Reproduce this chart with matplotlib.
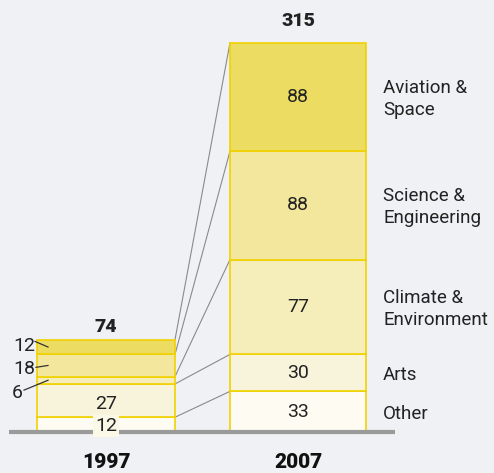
import numpy as np
import matplotlib.pyplot as plt

# Values (from the picture), bottom to top
categories = ['Other', 'Arts', 'Climate &\nEnvironment', 'Science &\nEngineering', 'Aviation &\nSpace']
years = ['1997', '2007']
values_1997 = [12, 27, 6, 18, 12]
values_2007 = [33, 30, 77, 88, 88]
totals = [74, 315]

colors = ['#fdfbf2', '#f8f4dc', '#f5eebb', '#f3e79d', '#ecdc62']
edge = '#f0d200'
bg = '#f0f1f4'

plt.rcParams['font.family'] = ['Roboto', 'DejaVu Sans']

fig = plt.figure(figsize=(4.94, 4.73), dpi=100, facecolor=bg)
ax = fig.add_axes([0, 0, 1, 1])
ax.set_facecolor(bg)
px = 1.232  # pixels per unit
ax.set_xlim(0, 494)
ax.set_ylim(-41 / px, (473 - 41) / px)
ax.axis('off')

x_pos = [106, 298]
widths = [138, 136]

# stacked bars
for xi, w, vals in zip(x_pos, widths, [values_1997, values_2007]):
    bottoms = np.concatenate([[0], np.cumsum(vals)[:-1]])
    ax.bar(xi, vals, width=w, bottom=bottoms, color=colors,
           edgecolor=edge, linewidth=1.2, zorder=2)

# connector lines between segment tops
tops_97 = np.cumsum(values_1997)
tops_07 = np.cumsum(values_2007)
x_r = x_pos[0] + widths[0] / 2
x_l = x_pos[1] - widths[1] / 2
for t1, t2 in zip(tops_97, tops_07):
    ax.plot([x_r, x_l], [t1, t2], color='#8a8a8a', lw=0.8, zorder=1)

# baseline
ax.plot([9, 395], [0, 0], color='#9a9a9a', lw=3, solid_capstyle='butt', zorder=3)

# labels inside 2007 bar
mids_07 = tops_07 - np.array(values_2007) / 2
for m, v in zip(mids_07, values_2007):
    ax.text(x_pos[1], m, str(v), ha='center', va='center', fontsize=14, color='#222222', zorder=4)

# category labels
for m, c in zip(mids_07, categories):
    ax.text(383, m - 1.5, c, ha='left', va='center', fontsize=13.5,
            color='#222222', linespacing=1.3)

# 1997 labels
mids_97 = tops_97 - np.array(values_1997) / 2
ax.text(x_pos[0], mids_97[1] - 2.5, str(values_1997[1]), ha='center', va='center',
        fontsize=14, color='#222222', zorder=4)
ax.text(x_pos[0], mids_97[0] - 1, str(values_1997[0]), ha='center', va='center',
        fontsize=14, color='#222222', zorder=4,
        bbox=dict(boxstyle='square,pad=0.1', facecolor='#fbf8e8', edgecolor='none'))

side = [(4, 35, 69.8, (35, 73.5)), (3, 35, 51.0, (36, 52.5)), (2, 23, 31.7, (24, 34))]
for idx, xt, yt, start in side:
    ax.text(xt, yt, str(values_1997[idx]), ha='right', va='center', fontsize=14, color='#222222')
    ax.plot([start[0], 48], [start[1], mids_97[idx]], color='#333333', lw=0.9, zorder=4)

# totals
ax.text(x_pos[0], 85, str(totals[0]), ha='center', va='center', fontsize=14,
        fontweight='black', color='#222222')
ax.text(x_pos[1], 334, str(totals[1]), ha='center', va='center', fontsize=14,
        fontweight='black', color='#222222')

# years
for xi, yr in zip(x_pos, years):
    ax.text(xi, -25, yr, ha='center', va='center', fontsize=15, fontweight='black',
            color='#111111')

fig.savefig('out.png', dpi=100, facecolor=bg)
